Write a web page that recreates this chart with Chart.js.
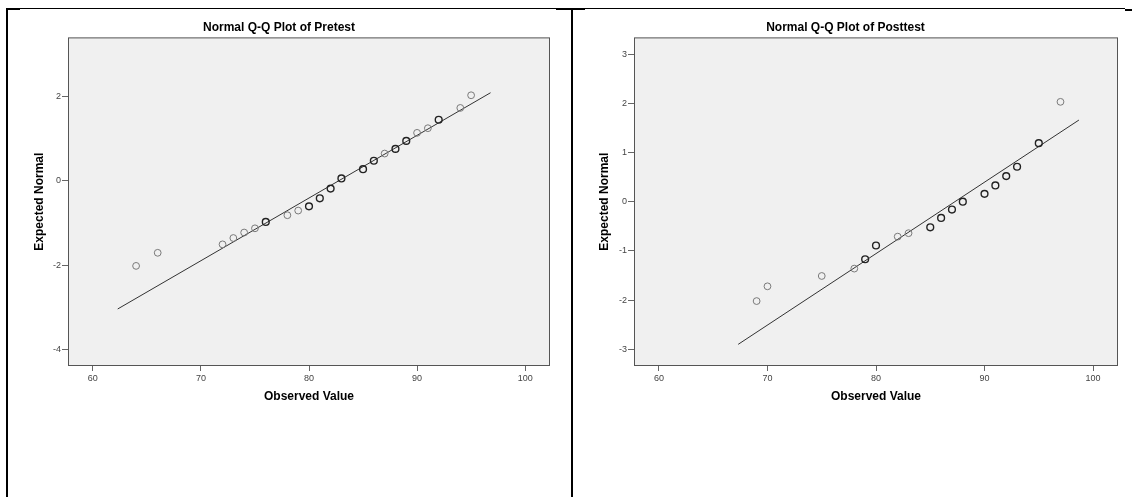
<!DOCTYPE html>
<html>
<head>
<meta charset="utf-8">
<title>Normal Q-Q Plots</title>
<script src="https://cdn.jsdelivr.net/npm/chart.js@4"></script>
<style>
  html, body { margin: 0; padding: 0; background: #fff; }
  body { width: 1132px; height: 497px; position: relative; overflow: hidden; }
  .rule { position: absolute; background: #000; }
  canvas { position: absolute; }
</style>
</head>
<body>
<!-- table cell borders round the two plots -->
<div class="rule" style="left:6px;top:8px;width:2px;height:489px"></div>
<div class="rule" style="left:6px;top:8px;width:1119px;height:1px"></div>
<div class="rule" style="left:6px;top:8px;width:14px;height:2px"></div>
<div class="rule" style="left:571px;top:8px;width:2px;height:489px"></div>
<div class="rule" style="left:556px;top:8px;width:29px;height:2px"></div>
<div class="rule" style="left:1125px;top:9px;width:7px;height:2px"></div>

<canvas id="c-pre" width="562" height="488" style="left:8px;top:9px"></canvas>
<canvas id="c-post" width="559" height="488" style="left:573px;top:9px"></canvas>

<script>
// Pretest: observed score, expected normal value, number of tied cases
const preObserved = [64, 66, 72, 73, 74, 75, 76, 78, 79, 80, 81, 82, 83, 85, 86, 87, 88, 89, 90, 91, 92, 94, 95];
const preExpected = [-2.02, -1.71, -1.51, -1.36, -1.23, -1.13, -0.98, -0.82, -0.71, -0.61, -0.42, -0.19, 0.05,
                     0.27, 0.47, 0.64, 0.75, 0.94, 1.13, 1.24, 1.44, 1.72, 2.02];
const preTies     = [1, 1, 1, 1, 1, 1, 2, 1, 1, 2, 2, 2, 2, 2, 2, 1, 2, 2, 1, 1, 2, 1, 1];
const preLineX    = [62.3, 96.8];
const preLineY    = [-3.04, 2.08];

// Posttest
const postObserved = [69, 70, 75, 78, 79, 80, 82, 83, 85, 86, 87, 88, 90, 91, 92, 93, 95, 97];
const postExpected = [-2.02, -1.72, -1.51, -1.36, -1.17, -0.89, -0.71, -0.64, -0.52, -0.33, -0.16, 0.0,
                      0.16, 0.33, 0.52, 0.71, 1.19, 2.03];
const postTies     = [1, 1, 1, 1, 2, 2, 1, 1, 2, 2, 2, 2, 2, 2, 2, 2, 2, 1];
const postLineX    = [67.3, 98.7];
const postLineY    = [-2.90, 1.66];

// ── SHARED STYLE ──────────────────────────────────────────────
const fontFamily = '"Liberation Sans", Arial, Helvetica, sans-serif';
const tickColor  = '#444';

// grey plot area with a dark frame, SPSS style
const plotFrame = {
  id: 'plotFrame',
  beforeDatasetsDraw(chart) {
    const { ctx, chartArea: a } = chart;
    ctx.save();
    ctx.fillStyle = '#f0f0f0';
    ctx.fillRect(a.left, a.top, a.right - a.left, a.bottom - a.top);
    ctx.strokeStyle = '#555';
    ctx.lineWidth = 1;
    ctx.strokeRect(a.left + 0.5, a.top + 0.5, a.right - a.left - 1, a.bottom - a.top - 1);
    ctx.restore();
  }
};

const zip = (xs, ys) => xs.map((x, i) => ({ x, y: ys[i] }));

function qqChart(id, opt) {
  return new Chart(document.getElementById(id), {
    type: 'scatter',
    data: {
      datasets: [
        {
          data: zip(opt.observed, opt.expected),
          pointRadius: 3.4,
          pointBorderWidth: opt.ties.map(n => n > 1 ? 1.4 : 1),
          pointBorderColor: opt.ties.map(n => n > 1 ? '#222' : '#7a7a7a'),
          pointBackgroundColor: 'transparent'
        },
        {
          type: 'line',
          data: zip(opt.lineX, opt.lineY),
          borderColor: '#333',
          borderWidth: 1,
          pointRadius: 0,
          fill: false
        }
      ]
    },
    options: {
      responsive: false,
      animation: false,
      layout: { padding: { left: 0, right: opt.padRight, top: 0, bottom: 86 } },
      plugins: {
        legend: { display: false },
        tooltip: { enabled: false },
        title: {
          display: true,
          text: opt.title,
          color: '#000',
          font: { family: fontFamily, size: 12, weight: 'bold' },
          padding: { top: 11, bottom: 3 }
        }
      },
      scales: {
        x: {
          type: 'linear',
          min: 57.7, max: 102.3,
          afterFit: s => { s.height = 45; },
          ticks: {
            stepSize: 10, includeBounds: false,
            color: tickColor, padding: 2,
            font: { family: fontFamily, size: 9 }
          },
          grid: { drawOnChartArea: false, drawTicks: true, tickLength: 5, color: '#666' },
          border: { display: false },
          title: {
            display: true, text: 'Observed Value', color: '#000',
            font: { family: fontFamily, size: 12, weight: 'bold' },
            padding: { top: 0, bottom: 7.5 }
          }
        },
        y: {
          type: 'linear',
          min: opt.yMin, max: opt.yMax,
          afterFit: s => { s.width = opt.yWidth; },
          ticks: {
            stepSize: opt.yStep, includeBounds: false,
            color: tickColor, padding: 1,
            font: { family: fontFamily, size: 9 }
          },
          grid: { drawOnChartArea: false, drawTicks: true, tickLength: 6, color: '#666' },
          border: { display: false },
          title: {
            display: true, text: 'Expected Normal', color: '#000',
            font: { family: fontFamily, size: 12, weight: 'bold' },
            padding: { top: 24, bottom: 0 }
          }
        }
      }
    },
    plugins: [plotFrame]
  });
}

// ── 1. PRETEST ────────────────────────────────────────────────
qqChart('c-pre', {
  title: 'Normal Q-Q Plot of Pretest',
  observed: preObserved, expected: preExpected, ties: preTies,
  lineX: preLineX, lineY: preLineY,
  yMin: -4.39, yMax: 3.39, yStep: 2,
  yWidth: 60, padRight: 20
});

// ── 2. POSTTEST ───────────────────────────────────────────────
qqChart('c-post', {
  title: 'Normal Q-Q Plot of Posttest',
  observed: postObserved, expected: postExpected, ties: postTies,
  lineX: postLineX, lineY: postLineY,
  yMin: -3.34, yMax: 3.34, yStep: 1,
  yWidth: 61, padRight: 14
});
</script>
</body>
</html>
